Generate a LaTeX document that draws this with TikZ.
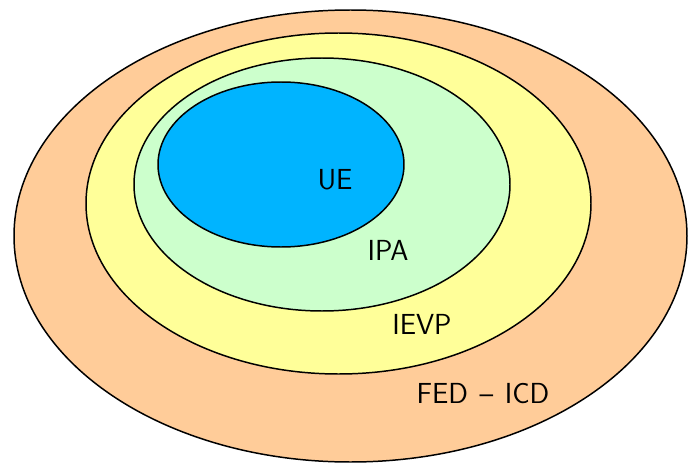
\documentclass[tikz,border=0pt]{standalone}
\usepackage{tikz}

\definecolor{fedcol}{HTML}{FFCC99}
\definecolor{ievpcol}{HTML}{FFFF99}
\definecolor{ipacol}{HTML}{CCFFCC}
\definecolor{uecol}{HTML}{00B4FF}

\begin{document}
\begin{tikzpicture}[x=0.02cm,y=-0.02cm]
    \tikzstyle{set}=[draw=black,line width=0.85pt]
    \tikzstyle{lbl}=[font=\fontsize{16.5}{19}\selectfont\sffamily,inner sep=0pt]

    \useasboundingbox (0,0) rectangle (694,463);

    % nested sets, outermost first
    \draw[set,fill=fedcol] (350.5,236) ellipse [x radius=336.5, y radius=226];
    \draw[set,fill=ievpcol] (338.5,203.5) ellipse [x radius=252.5, y radius=170.5];
    \draw[set,fill=ipacol] (322,184.5) ellipse [x radius=188, y radius=126.5];
    \draw[set,fill=uecol] (281,164.5) ellipse [x radius=123, y radius=82.5];

    \node[lbl] at (335,180) (ue) {UE};
    \node[lbl] at (388,250) (ipa) {IPA};
    \node[lbl] at (422,324) (ievp) {IEVP};
    \node[lbl] at (483,394) (fed) {FED\hspace{0.4em}--\hspace{0.4em}ICD};
\end{tikzpicture}
\end{document}
